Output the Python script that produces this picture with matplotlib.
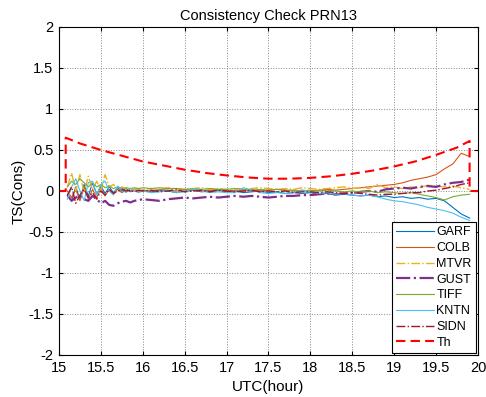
import numpy as np
import matplotlib
matplotlib.use('Agg')
import matplotlib.pyplot as plt
from matplotlib.ticker import FormatStrFormatter

plt.rcParams['font.family'] = ['Liberation Sans', 'DejaVu Sans']
plt.rcParams['axes.unicode_minus'] = False

# time grid (hours UTC)
t_early = [15.10, 15.15, 15.20, 15.25, 15.30, 15.35, 15.40, 15.45, 15.50, 15.55,
           15.60, 15.65, 15.70, 15.75, 15.80, 15.85, 15.90, 15.95, 16.00]
t_late = [16.1, 16.2, 16.3, 16.4, 16.5, 16.6, 16.7, 16.8, 16.9, 17.0,
          17.1, 17.2, 17.3, 17.4, 17.5, 17.6, 17.7, 17.8, 17.9, 18.0,
          18.1, 18.2, 18.3, 18.4, 18.5, 18.6, 18.7, 18.8, 18.9, 19.0,
          19.1, 19.2, 19.3, 19.4, 19.5, 19.6, 19.7, 19.8, 19.9]
utc = t_early + t_late

garf = [-0.05, -0.12, 0.05, -0.10, 0.08, -0.06, 0.10, -0.04, 0.06, -0.03,
        0.05, -0.02, 0.04, 0.00, 0.03, -0.01, 0.02, 0.00, 0.01,
        -0.01, 0.01, 0.00, -0.02, 0.00, 0.01, -0.01, 0.00, 0.01, -0.01,
        0.00, -0.02, -0.01, 0.00, -0.02, -0.01, -0.03, -0.02, -0.03, -0.02,
        -0.04, -0.03, -0.05, -0.04, -0.05, -0.06, -0.05, -0.07, -0.06, -0.08,
        -0.07, -0.09, -0.08, -0.10, -0.09, -0.12, -0.20, -0.28, -0.33]
colb = [0.00, -0.08, 0.02, -0.12, 0.05, -0.10, 0.02, -0.08, 0.03, -0.06,
        0.02, -0.03, 0.02, -0.02, 0.01, 0.00, 0.02, 0.00, 0.01,
        0.00, 0.02, 0.01, 0.00, 0.02, 0.01, 0.00, 0.01, 0.02, 0.00,
        0.01, 0.00, 0.01, 0.00, 0.01, 0.02, 0.01, 0.00, 0.01, 0.00,
        0.01, 0.02, 0.01, 0.02, 0.03, 0.04, 0.05, 0.06, 0.07, 0.08,
        0.10, 0.13, 0.15, 0.17, 0.20, 0.27, 0.33, 0.46, 0.42]
mtvr = [0.05, 0.22, 0.00, 0.20, -0.02, 0.18, 0.02, 0.12, 0.00, 0.20,
        0.05, 0.08, 0.02, 0.05, 0.02, 0.03, 0.02, 0.03, 0.02,
        0.03, 0.02, 0.04, 0.03, 0.02, 0.03, 0.04, 0.02, 0.03, 0.02,
        0.03, 0.02, 0.03, 0.04, 0.03, 0.02, 0.03, 0.02, 0.04, 0.03,
        0.02, 0.03, 0.04, 0.05, 0.03, 0.04, 0.03, 0.08, 0.04, 0.05,
        0.03, 0.05, 0.04, 0.07, 0.06, 0.05, 0.06, 0.04, 0.02]
gust = [-0.05, -0.12, -0.08, -0.05, -0.10, -0.12, -0.06, -0.10, -0.15, -0.12,
        -0.17, -0.18, -0.15, -0.13, -0.12, -0.14, -0.12, -0.11, -0.10,
        -0.11, -0.12, -0.10, -0.09, -0.08, -0.09, -0.08, -0.07, -0.08, -0.07,
        -0.06, -0.07, -0.06, -0.07, -0.08, -0.07, -0.06, -0.06, -0.05, -0.05,
        -0.04, -0.03, -0.04, -0.03, -0.02, -0.01, 0.00, -0.01, 0.02, 0.03,
        0.04, 0.03, 0.05, 0.06, 0.05, 0.08, 0.10, 0.11, 0.14]
tiff = [0.05, 0.12, 0.08, 0.15, 0.10, 0.05, 0.10, 0.05, 0.08, 0.04,
        0.06, 0.03, 0.05, 0.03, 0.04, 0.03, 0.04, 0.03, 0.04,
        0.03, 0.04, 0.03, 0.03, 0.02, 0.03, 0.02, 0.03, 0.02, 0.02,
        0.03, 0.02, 0.01, 0.02, 0.01, 0.02, 0.01, 0.01, 0.00, 0.01,
        0.00, 0.01, 0.00, -0.01, 0.00, -0.01, 0.00, -0.02, -0.01, -0.02,
        -0.03, -0.02, -0.04, -0.06, -0.08, -0.11, -0.07, -0.05, -0.04]
kntn = [-0.10, 0.05, 0.15, 0.00, -0.12, 0.10, 0.12, -0.05, 0.08, 0.12,
        0.00, -0.05, 0.06, 0.02, -0.02, 0.03, 0.00, -0.02, 0.00,
        -0.02, -0.01, 0.01, -0.02, -0.01, 0.03, 0.00, -0.02, -0.01, -0.02,
        -0.02, 0.04, 0.01, -0.02, -0.03, -0.02, -0.03, -0.02, 0.01, -0.01,
        -0.03, -0.02, -0.04, -0.03, -0.05, -0.06, -0.05, -0.07, -0.10, -0.12,
        -0.13, -0.15, -0.17, -0.20, -0.22, -0.24, -0.27, -0.32, -0.36]
sidn = [-0.05, 0.05, -0.15, -0.05, 0.02, -0.08, -0.02, -0.10, 0.00, -0.05,
        0.02, -0.03, 0.00, 0.02, 0.00, 0.01, -0.01, 0.01, 0.00,
        0.01, -0.01, 0.00, 0.02, -0.01, 0.00, 0.01, -0.01, 0.01, 0.00,
        -0.01, 0.00, 0.01, -0.01, 0.00, -0.01, 0.00, -0.02, -0.01, -0.01,
        -0.02, -0.01, -0.02, -0.03, -0.02, -0.03, -0.04, -0.05, -0.04, -0.04,
        -0.03, -0.02, -0.02, 0.00, 0.01, 0.03, 0.05, 0.08, 0.10]

th_utc = [15.0, 15.08, 15.08, 15.25, 15.5, 15.75, 16.0, 16.25, 16.5, 16.75, 17.0,
          17.25, 17.5, 17.75, 18.0, 18.25, 18.5, 18.75, 19.0, 19.25, 19.5,
          19.75, 19.9, 19.9, 20.0]
th = [0.0, 0.0, 0.65, 0.58, 0.50, 0.43, 0.36, 0.31, 0.26, 0.22, 0.19,
      0.165, 0.15, 0.15, 0.16, 0.18, 0.21, 0.25, 0.30, 0.36, 0.44,
      0.53, 0.61, 0.0, 0.0]

fig = plt.figure(figsize=(4.86, 3.97), dpi=100)
ax = fig.add_axes([0.1214, 0.1058, 0.8621, 0.8262])

ax.plot(utc, garf, color='#0072BD', lw=0.8, label='GARF')
ax.plot(utc, colb, color='#D95319', lw=0.8, label='COLB')
ax.plot(utc, mtvr, color='#EDB120', lw=1.0, ls='-.', label='MTVR')
ax.plot(utc, gust, color='#7E2F8E', lw=1.6, ls='-.', label='GUST')
ax.plot(utc, tiff, color='#77AC30', lw=0.8, label='TIFF')
ax.plot(utc, kntn, color='#4DBEEE', lw=0.8, label='KNTN')
ax.plot(utc, sidn, color='#A2142F', lw=1.0, ls='-.', label='SIDN')
ax.plot(th_utc, th, color='#FF0000', lw=1.5, ls=(0, (4.5, 2.5)), label='Th')

ax.set_xlim(15, 20)
ax.set_ylim(-2, 2)
ax.set_xticks(np.arange(15, 20.01, 0.5))
ax.set_yticks(np.arange(-2, 2.01, 0.5))
ax.xaxis.set_major_formatter(FormatStrFormatter('%g'))
ax.yaxis.set_major_formatter(FormatStrFormatter('%g'))
ax.tick_params(direction='in', top=True, right=True, labelsize=10.5, length=3, pad=4)
ax.grid(True, ls=':', color='#888888', lw=0.7)
for s in ax.spines.values():
    s.set_linewidth(0.8)

ax.set_title('Consistency Check PRN13', fontsize=10.5, pad=5)
ax.set_xlabel('UTC(hour)', fontsize=11)
ax.set_ylabel('TS(Cons)', fontsize=11, labelpad=2)

leg = ax.legend(loc='lower right', fontsize=9, fancybox=False, framealpha=1,
                edgecolor='black', handlelength=3.0, labelspacing=0.3,
                borderaxespad=0.15, handletextpad=0.2, borderpad=0.35)
leg.get_frame().set_linewidth(0.8)

plt.savefig('out.png', dpi=100)
